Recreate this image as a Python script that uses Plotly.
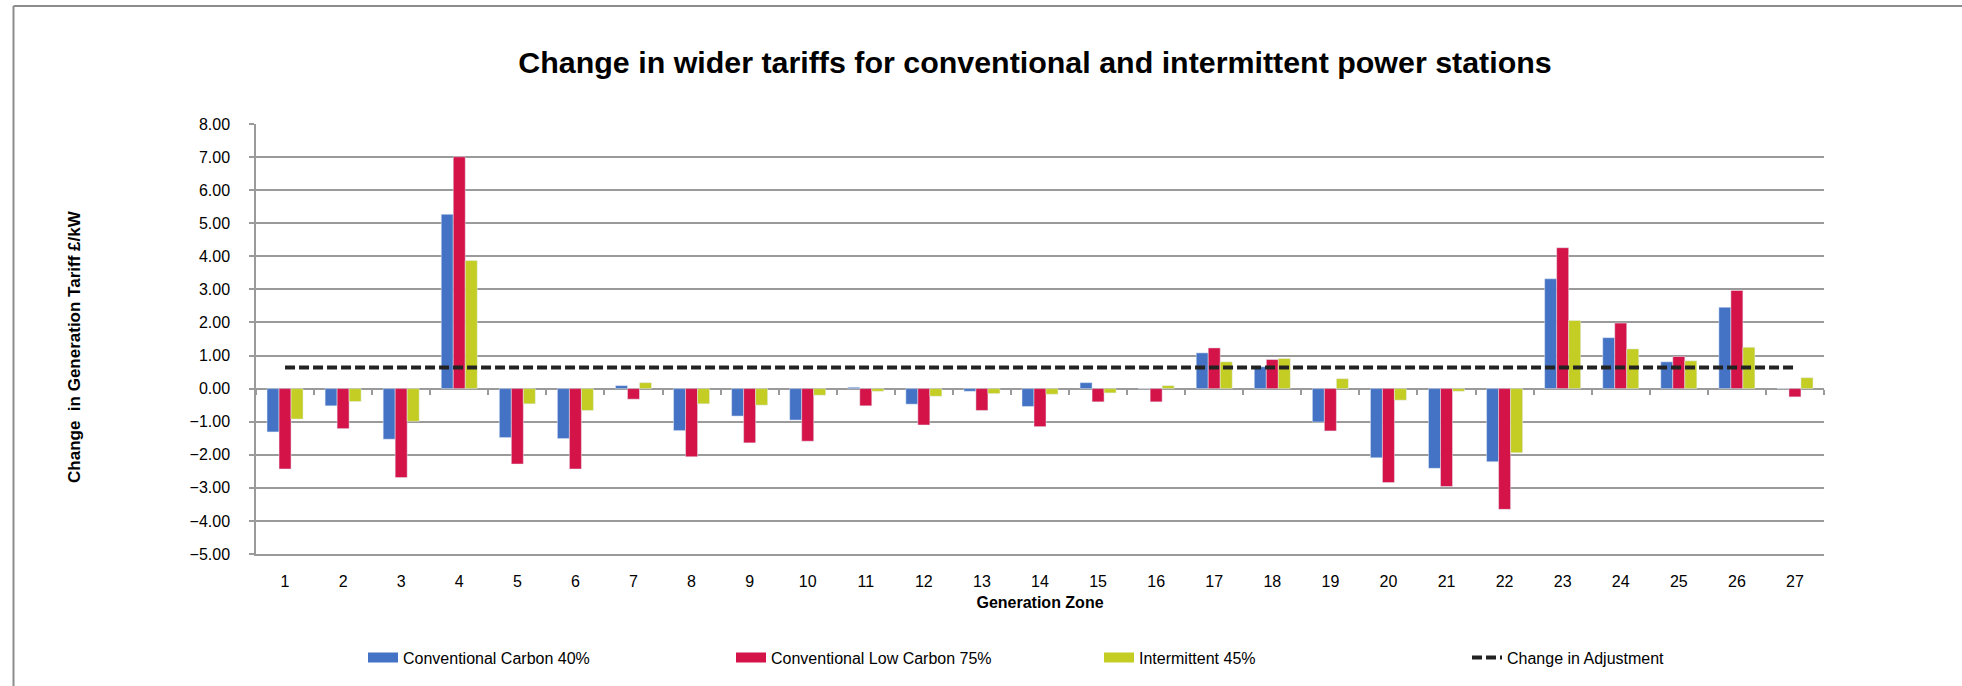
import plotly.graph_objects as go

zones = [str(i) for i in range(1, 28)]
conv_carbon = [-1.31, -0.52, -1.53, 5.27, -1.48, -1.51, 0.09, -1.27, -0.83, -0.95, 0.04, -0.47, -0.08, -0.54,
               0.18, 0.00, 1.08, 0.66, -1.01, -2.09, -2.41, -2.21, 3.32, 1.54, 0.81, 2.46, 0.00]
conv_low_carbon = [-2.43, -1.21, -2.69, 7.01, -2.28, -2.43, -0.32, -2.06, -1.64, -1.59, -0.52, -1.10, -0.66, -1.15,
                   -0.40, -0.40, 1.23, 0.88, -1.28, -2.84, -2.96, -3.65, 4.26, 1.98, 0.97, 2.97, -0.25]
intermittent = [-0.92, -0.39, -0.99, 3.87, -0.46, -0.66, 0.18, -0.46, -0.50, -0.20, -0.08, -0.23, -0.15, -0.17,
                -0.13, 0.09, 0.81, 0.91, 0.30, -0.35, -0.08, -1.94, 2.06, 1.20, 0.84, 1.25, 0.33]
adjustment = [0.64] * 27
y_ticks = [-5, -4, -3, -2, -1, 0, 1, 2, 3, 4, 5, 6, 7, 8]

series_names = ["Conventional Carbon 40%", "Conventional Low Carbon 75%", "Intermittent 45%"]
series_colors = ["#4472C4", "#D41349", "#C3CD23"]

W, H = 1962, 686
L, R, T, B = 256, 138, 124, 130
PW, PH = W - L - R, H - T - B


def px_x(px):
    return (px - L) / PW


def px_y(py):
    return (H - B - py) / PH


FONT = "Liberation Sans, Arial, sans-serif"
GRID = "#9a9a9a"

fig = go.Figure()
for vals, name, col in zip([conv_carbon, conv_low_carbon, intermittent], series_names, series_colors):
    fig.add_trace(go.Bar(x=zones, y=vals, name=name, marker_color=col, legendgroup=name, showlegend=False))
# legend swatches (wide rectangles, as in the original legend)
for name, col in zip(series_names, series_colors):
    fig.add_trace(go.Scatter(x=[None], y=[None], name=name, mode="lines", legendgroup=name,
                             line=dict(color=col, width=11), showlegend=True))
fig.add_trace(go.Scatter(x=zones, y=adjustment, name="Change in Adjustment", mode="lines", xaxis="x2",
                         line=dict(color="#222222", width=4, dash="10px,4px")))

fig.update_layout(
    width=W, height=H,
    margin=dict(l=L, r=R, t=T, b=B),
    paper_bgcolor="white", plot_bgcolor="white",
    barmode="group", bargap=0.38, bargroupgap=0,
    font=dict(family=FONT, color="#000000", size=16),
    title=dict(text="Change in wider tariffs for conventional and intermittent power stations",
               font=dict(family=FONT, size=30.4, weight="bold", color="#000000"),
               xref="container", yref="container", x=1035 / W, y=1 - 62 / H,
               xanchor="center", yanchor="middle"),
    xaxis=dict(type="category", range=[-0.5, 26.5], showgrid=False, showline=True, linecolor=GRID, linewidth=1.5,
               ticks="", tickfont=dict(size=16), ticklabelstandoff=12,
               title=dict(text="<b>Generation Zone</b>", font=dict(size=16), standoff=8)),
    xaxis2=dict(type="category", matches="x", overlaying="x", anchor="free", position=5 / 13,
                showgrid=False, showline=False, showticklabels=False, ticks="outside", ticklen=5,
                tickcolor=GRID, tickwidth=1.5, tickson="boundaries"),
    yaxis=dict(range=[-5, 8], tickvals=y_ticks, tickformat=".2f", showgrid=True, gridcolor=GRID, gridwidth=1.5,
               zeroline=True, zerolinecolor=GRID, zerolinewidth=1.5,
               showline=True, linecolor=GRID, linewidth=1.5, ticks="outside", ticklen=5, tickcolor=GRID,
               tickwidth=1.5, tickfont=dict(size=16), ticklabelstandoff=16),
    legend=dict(orientation="h", x=px_x(363), y=px_y(660), xanchor="left", yanchor="middle",
                entrywidth=323, entrywidthmode="pixels", font=dict(size=16), traceorder="normal"),
    showlegend=True,
    annotations=[dict(text="<b>Change  in Generation Tariff £/kW</b>", xref="paper", yref="paper",
                      x=px_x(75), y=px_y(348), textangle=-90, showarrow=False,
                      font=dict(size=17), xanchor="center", yanchor="middle")],
    shapes=[dict(type="line", xref="paper", yref="paper", x0=px_x(13.5), x1=px_x(W + 5), y0=px_y(5.5), y1=px_y(5.5),
                 line=dict(color="#8c8c8c", width=2)),
            dict(type="line", xref="paper", yref="paper", x0=px_x(13.5), x1=px_x(13.5), y0=px_y(5.5), y1=px_y(H + 5),
                 line=dict(color="#8c8c8c", width=2))],
)

fig.write_html("out.html", config={"displayModeBar": False},
               post_script="document.body.style.margin='0';")
